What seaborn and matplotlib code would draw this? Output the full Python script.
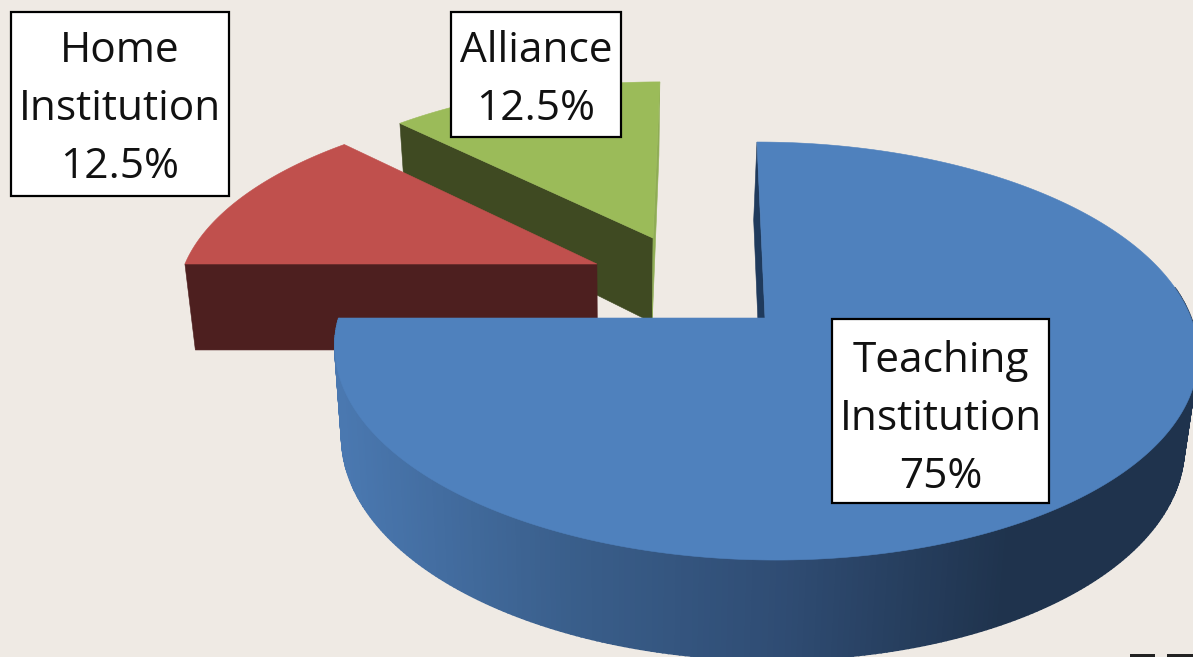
import numpy as np
import matplotlib
matplotlib.use("Agg")
import matplotlib.pyplot as plt
from matplotlib.patches import Polygon, Rectangle
import seaborn as sns

categories = ["Teaching\nInstitution", "Home\nInstitution", "Alliance"]
values = [75, 12.5, 12.5]
value_labels = ["75%", "12.5%", "12.5%"]
top_colors = ["#4F81BD", "#C0504D", "#9BBB59"]
side_colors = ["#1F3A5C", "#4D1F1F", "#3F4A22"]
offsets = [(0.0, 0.0), (-0.402, -0.2765), (-0.2686, -0.418)]
radii = [0.991, 1.0, 1.0]
boxes = [(832, 319, 1049, 503), (11, 12, 229, 196), (451, 12, 621, 137)]
first_baseline = [372, 62, 62]

BG = "#EFEAE4"
W, H = 1193, 657
CX, CY, RX, RY, P, SKEW = 765.0, 318.0, 430.0, 203.8, 0.158, 9.3
LINE = 58

sns.set_style("white")
plt.rcParams["font.family"] = ["Open Sans", "DejaVu Sans"]
fig = plt.figure(figsize=(W / 100, H / 100), dpi=100, facecolor=BG)
ax = fig.add_axes([0, 0, 1, 1], facecolor=BG)
ax.set_xlim(0, W)
ax.set_ylim(H, 0)
ax.axis("off")


def top(u, v):
    s = 1.0 / (1.0 - P * v)
    return CX + (RX * u + SKEW * v) * s, CY + RY * v * s


def low(u, v):
    x, y = top(u, v)
    return 620 + (x - 620) * 0.976, y + 89 + 11 * np.asarray(v)


fractions = np.array(values) / sum(values)
starts = np.concatenate([[0], np.cumsum(fractions)[:-1]]) * 2 * np.pi
ends = np.cumsum(fractions) * 2 * np.pi


def wedge(i, n=240):
    t = np.linspace(starts[i], ends[i], n)
    ou, ov = offsets[i]
    if i == 0:
        return radii[i] * np.sin(t) + ou, -np.cos(t) + ov, ou, ov
    return radii[i] * np.sin(t) + ou, -radii[i] * np.cos(t) + ov, ou, ov


def poly(points, color, z, lw=0.4):
    ax.add_patch(Polygon(points, closed=True, facecolor=color, edgecolor=color,
                         linewidth=lw, zorder=z))


# Alliance slice
u, v, ou, ov = wedge(2)
poly([top(u[0], v[0]), top(ou, ov), low(ou, ov), low(u[0], v[0])], side_colors[2], 1)
poly([top(u[-1], v[-1]), top(ou, ov), low(ou, ov), low(u[-1], v[-1])], "#8FAD55", 1)
poly([top(a, b) for a, b in zip(u, v)] + [top(ou, ov)], top_colors[2], 2)

# Home slice
u, v, ou, ov = wedge(1)
poly([top(u[0], v[0]), top(ou, ov), low(ou, ov), low(u[0], v[0])], side_colors[1], 3)
poly([top(a, b) for a, b in zip(u, v)] + [top(ou, ov)], top_colors[1], 4)

# Teaching slice
u, v, ou, ov = wedge(0, 400)
poly([top(u[0], v[0]), top(ou, ov), low(ou, ov), low(u[0], v[0])], side_colors[0], 5)
ramp = sns.blend_palette(["#4A78B0", "#3A5F8C", "#2F4C73", "#1F334D"], n_colors=256)
tx, _ = top(u, v)
for k in range(len(u) - 1):
    if v[k] < -0.15 and v[k + 1] < -0.15:
        continue
    idx = int(np.clip((tx[k] - 340) / (1010 - 340), 0, 1) * 255)
    poly([top(u[k], v[k]), top(u[k + 1], v[k + 1]),
          low(u[k + 1], v[k + 1]), low(u[k], v[k])], ramp[idx], 6, lw=1.2)
poly([top(a, b) for a, b in zip(u, v)] + [top(ou, ov)], top_colors[0], 7)

# Labels
for box, name, pct, base in zip(boxes, categories, value_labels, first_baseline):
    x0, y0, x1, y1 = box
    ax.add_patch(Rectangle((x0, y0), x1 - x0, y1 - y0, facecolor="white",
                           edgecolor="black", linewidth=1.6, zorder=8))
    for j, line in enumerate(name.split("\n") + [pct]):
        ax.text((x0 + x1) / 2, base + j * LINE, line, ha="center", va="baseline",
                fontsize=30.5, color="#111111", zorder=9)

# Cropped marks at the lower right edge
ax.add_patch(Rectangle((1130, 654), 25, 4, facecolor="#222222", edgecolor="none", zorder=9))
ax.add_patch(Rectangle((1167, 654), 26, 4, facecolor="#222222", edgecolor="none", zorder=9))

fig.savefig("out.png", dpi=100, facecolor=BG)
